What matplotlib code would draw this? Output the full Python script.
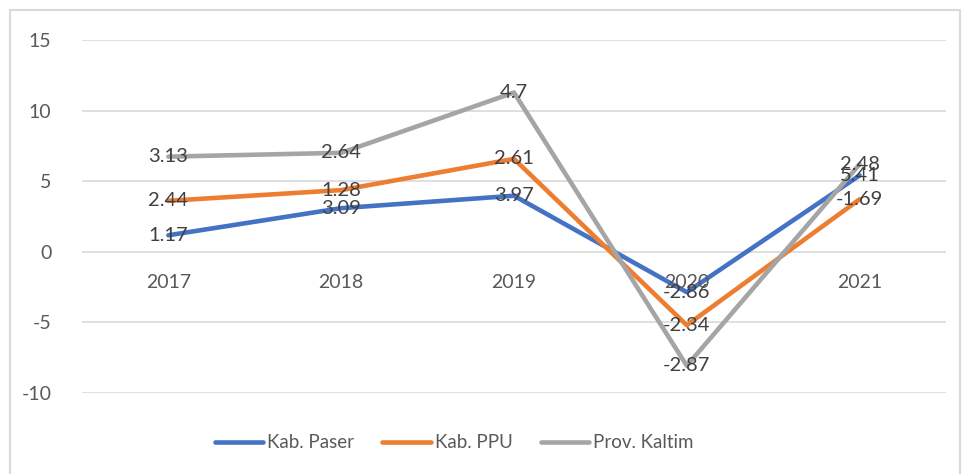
import matplotlib
matplotlib.use("Agg")
import matplotlib.pyplot as plt
import numpy as np
from matplotlib.patches import Rectangle

years = ["2017", "2018", "2019", "2020", "2021"]
paser = [1.17, 3.09, 3.97, -2.86, 5.41]
ppu = [2.44, 1.28, 2.61, -2.34, -1.69]
kaltim = [3.13, 2.64, 4.7, -2.87, 2.48]
series_names = ["Kab. Paser", "Kab. PPU", "Prov. Kaltim"]
colors = ["#4472C4", "#ED7D31", "#A5A5A5"]
yticks = [-10, -5, 0, 5, 10, 15]

plt.rcParams['font.family'] = ['Lato', 'DejaVu Sans']
txt = "#595959"

fig = plt.figure(figsize=(9.63, 4.74), dpi=100)
fig.patches.append(Rectangle((10/963, -0.1), 950/963, 1 - 10/474 + 0.1, transform=fig.transFigure,
                             fill=False, edgecolor="#D9D9D9", linewidth=1.5))
ax = fig.add_axes([82/963, 1 - 393/474, (946 - 82)/963, (393 - 40)/474])

data = np.array([paser, ppu, kaltim])
stacked = np.cumsum(data, axis=0)
x = np.arange(len(years))

for i in range(3):
    ax.plot(x, stacked[i], color=colors[i], lw=3.3, solid_capstyle='round',
            solid_joinstyle='round', label=series_names[i], zorder=3)
for i in range(3):
    for j in range(len(years)):
        ax.text(x[j], stacked[i][j], f"{data[i][j]:g}", ha='center', va='center',
                fontsize=14.5, color="#404040", zorder=4)

ax.set_xlim(-0.5, len(years) - 0.5)
ax.set_ylim(-10, 15)
ax.set_yticks(yticks)
ax.set_yticklabels([str(v) for v in yticks], fontsize=14, color=txt)
ax.tick_params(axis='y', length=0, pad=22)
ax.set_xticks([])
for s in ax.spines.values():
    s.set_visible(False)
ax.grid(axis='y', color="#D9D9D9", lw=1.2, zorder=0)
ax.set_axisbelow(True)

for j in range(len(years)):
    ax.annotate(years[j], (x[j], 0), xytext=(0, -22), textcoords='offset points',
                ha='center', va='center', fontsize=14, color=txt)

leg = fig.legend(loc='center', bbox_to_anchor=(454/963, 1 - 443/474), ncol=3, frameon=False,
                 fontsize=13.5, labelcolor=txt, handlelength=2.6, handletextpad=0.2,
                 columnspacing=1.5)

fig.savefig("out.png", dpi=100)
